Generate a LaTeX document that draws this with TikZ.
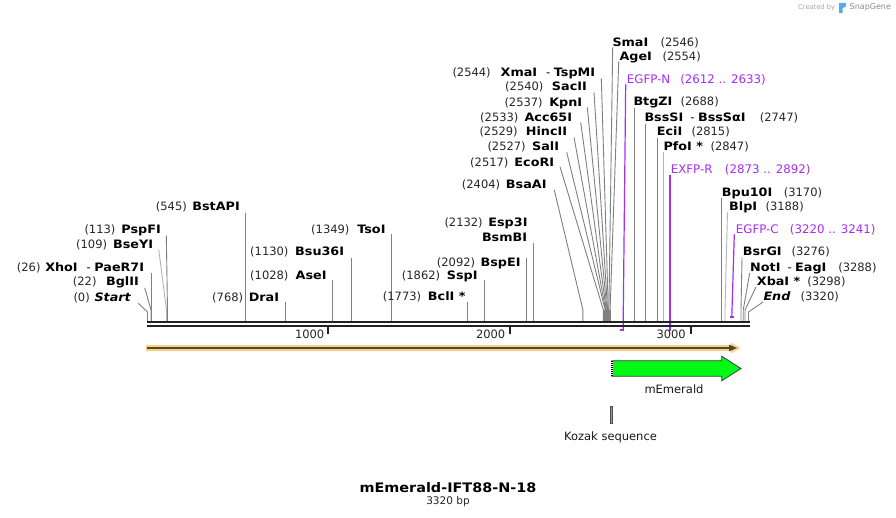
\documentclass[tikz,border=0pt]{standalone}
\usepackage{fontspec}
\setmainfont{DejaVu Sans}[BoldFeatures={FakeStretch=1.1},BoldItalicFeatures={FakeStretch=1.1}]
\definecolor{purp}{RGB}{165,45,245}
\definecolor{sitegray}{RGB}{128,128,128}
\definecolor{lightsite}{RGB}{180,180,180}
\definecolor{bb}{RGB}{34,34,34}
\definecolor{orangefill}{RGB}{250,208,130}
\definecolor{orangeline}{RGB}{80,72,55}
\definecolor{gfp}{RGB}{0,250,22}
\definecolor{sgblue}{RGB}{90,170,230}
\tikzset{
  nm/.style={font=\fontsize{11.6}{14}\selectfont\bfseries, inner sep=0pt, text=black},
  ps/.style={font=\fontsize{11.5}{13}\selectfont, inner sep=0pt, text=black!85},
  pn/.style={font=\fontsize{11.8}{14}\selectfont, inner sep=0pt, text=purp},
  site/.style={draw=sitegray, line width=0.9pt},
  lsite/.style={draw=lightsite, line width=0.9pt},
  prim/.style={draw=purp, line width=1.2pt},
  backbone/.style={draw=bb, line width=2.5pt},
  tickmark/.style={draw=bb, line width=2pt},
  plain/.style={font=\fontsize{11.5}{13}\selectfont, inner sep=0pt, text=black!90},
}
% left label: id, name, name right x, centre y, position, pos left x
\newcommand\LLab[6]{%
  \node[nm,anchor=base east] (n#1) at (#3,#4+4.3) {#2};
  \node[ps,anchor=base west] (p#1) at (#6,#4+4.3) {(#5)};}
% right label: id, name, name left x, centre y, position, pos right x
\newcommand\RLab[6]{%
  \node[nm,anchor=base west] (n#1) at (#3,#4+4.3) {#2};
  \node[ps,anchor=base east] (p#1) at (#6,#4+4.3) {(#5)};}
\begin{document}
\begin{tikzpicture}[x=1pt,y=-1pt]
\useasboundingbox (0,0) rectangle (896,518);
\fill[white] (0,0) rectangle (896,518);

% ---------- site lines ----------
\draw[site] (245.8,213) -- (245.8,321);
\draw[site] (166.3,235.7) -- (167.5,310) -- (167.5,321);
\draw[lsite] (158.7,249.3) -- (166.5,310) -- (166.5,321);
\draw[site] (151.7,273.3) -- (151.7,321);
\draw[site] (144.7,287.7) -- (151,310) -- (151,321);
\draw[site] (138.3,303.3) -- (147.5,312) -- (147.5,321);
\draw[site] (285.6,302.3) -- (285.6,321);
\draw[site] (351.6,258.3) -- (351.6,321);
\draw[site] (332.8,280) -- (332.8,321);
\draw[site] (391.4,234.3) -- (391.4,321);
\draw[site] (467.8,302.3) -- (467.8,321);
\draw[site] (484.4,280) -- (484.4,321);
\draw[site] (526,258.3) -- (526,321);
\draw[site] (533.4,243.3) -- (533.4,321);
\draw[site] (554.3,190) -- (582.9,310) -- (582.9,321);
\draw[site] (560,166.7) -- (603.4,310) -- (603.4,321);
\draw[site] (566.7,152.3) -- (605.2,310) -- (605.2,321);
\draw[site] (574,137.3) -- (605.6,310) -- (605.6,321);
\draw[site] (580.7,122.3) -- (606.3,310) -- (606.3,321);
\draw[site] (587.3,107.3) -- (607,310) -- (607,321);
\draw[site] (594,92.3) -- (607.6,310) -- (607.6,321);
\draw[site] (601.3,78.3) -- (608.3,310) -- (608.3,321);
\draw[site] (612.7,47.3) -- (608.9,310) -- (608.9,321);
\draw[site] (618.7,61.7) -- (610.1,310) -- (610.1,321);
\fill[sitegray] (603.5,310) rectangle (610.5,321);
\draw[site] (634.3,108.3) -- (634.3,321);
\draw[site] (645,124.3) -- (645,321);
\draw[site] (657.2,137.7) -- (657.2,321);
\draw[lsite] (663,152.3) -- (663,321);
\draw[site] (721.7,198.3) -- (721.7,321);
\draw[lsite] (727.5,212.3) -- (725,310) -- (725,321);
\draw[site] (742,257.3) -- (741,310) -- (741,321);
\draw[site] (749.7,273) -- (743.2,310) -- (743.2,321);
\draw[site] (756,287) -- (745,310) -- (745,321);
\draw[site] (763,302) -- (748.5,312) -- (748.5,321);

% ---------- primers ----------
\draw[prim] (625.7,84.3) -- (623.3,310) -- (623.3,330);
\draw[purp, line width=1.6pt] (620.3,330) -- (624.2,330);
\draw[prim] (670,175) -- (670,330);
\draw[purp, line width=1.6pt] (667.7,330.5) -- (671.2,330.5);
\draw[prim] (734.3,234.3) -- (731.8,316.5);
\draw[purp, line width=1.8pt] (729.9,317.2) -- (733.5,317.2);

% ---------- backbone ----------
\draw[backbone] (146.5,322.2) -- (749.5,322.2);
\draw[backbone] (146.5,326) -- (749.5,326);
\draw[tickmark] (328.3,327) -- (328.3,334.3);
\draw[tickmark] (509.6,327) -- (509.6,334.3);
\draw[tickmark] (690.8,327) -- (690.8,334.3);
\node[ps,anchor=base east] (t1) at (324.5,338.4) {1000};
\node[ps,anchor=base east] (t2) at (505.5,338.4) {2000};
\node[ps,anchor=base east] (t3) at (686,338.4) {3000};

% ---------- left labels ----------
\LLab{bstapi}{BstAPI}{240}{206.7}{545}{155.7}
\LLab{pspfi}{PspFI}{161}{229}{113}{84.3}
\LLab{bseyi}{BseYI}{153.3}{244}{109}{76}
\LLab{xhoi}{XhoI\hspace{9pt}{\mdseries -}\hspace{3.5pt}PaeR7I}{144.3}{267.7}{26}{16.7}
\LLab{bglii}{BglII}{139}{281}{22}{72.7}
\LLab{start}{\itshape Start}{131}{297}{0}{73.3}
\LLab{drai}{DraI}{279.3}{297}{768}{212}
\LLab{bsu}{Bsu36I}{344.3}{251.7}{1130}{250}
\LLab{asei}{AseI}{326.7}{275}{1028}{250}
\LLab{tsoi}{TsoI}{385.7}{229.3}{1349}{311}
\LLab{bcli}{BclI *}{465.7}{296.7}{1773}{382.7}
\LLab{sspi}{SspI}{477.7}{275}{1862}{401.7}
\LLab{bspei}{BspEI}{520.7}{262.7}{2092}{436.7}
\LLab{esp}{Esp3I}{527.7}{222.3}{2132}{444.3}
\node[nm,anchor=base east] (nbsmbi) at (527.3,237.7+4.3) {BsmBI};
\LLab{bsaai}{BsaAI}{546.7}{184}{2404}{461.7}
\LLab{ecori}{EcoRI}{554.3}{162}{2517}{470}
\LLab{sali}{SalI}{559.3}{146.7}{2527}{487.3}
\LLab{hincii}{HincII}{567.3}{131.7}{2529}{479.3}
\LLab{acc}{Acc65I}{572.3}{117.3}{2533}{480}
\LLab{kpni}{KpnI}{582.3}{102}{2537}{504.3}
\LLab{sacii}{SacII}{587}{86.7}{2540}{505}
\LLab{xmai}{XmaI\hspace{9pt}{\mdseries -}\hspace{3.5pt}TspMI}{595.3}{72}{2544}{452.3}

% ---------- right labels ----------
\RLab{smai}{SmaI}{612.3}{42.3}{2546}{699}
\RLab{agei}{AgeI}{619.3}{56.7}{2554}{701}
\RLab{btgzi}{BtgZI}{633.3}{101.7}{2688}{719}
\RLab{bsssi}{BssSI\hspace{7pt}{\mdseries -}\hspace{3.5pt}BssSαI}{644.3}{117.3}{2747}{798.3}
\RLab{ecii}{EciI}{656.7}{131.7}{2815}{730}
\RLab{pfoi}{PfoI *}{663.3}{146.7}{2847}{749}
\RLab{bpu}{Bpu10I}{721.7}{192.3}{3170}{822.3}
\RLab{blpi}{BlpI}{729}{206.7}{3188}{804}
\RLab{bsrgi}{BsrGI}{742.7}{251.7}{3276}{830}
\RLab{noti}{NotI\hspace{7pt}{\mdseries -}\hspace{3.5pt}EagI}{750}{267.3}{3288}{876.7}
\RLab{xbai}{XbaI *}{756.7}{281}{3298}{845.7}
\RLab{end}{\itshape End}{763.3}{296.7}{3320}{839}

% ---------- primer labels ----------
\node[pn,anchor=base west] (egfpn) at (626.7,79+4.3) {EGFP-N};
\node[pn,anchor=base east] (egfpnp) at (766,79+4.3) {(2612 .. 2633)};
\node[pn,anchor=base west] (exfpr) at (670.7,169+4.3) {EXFP-R};
\node[pn,anchor=base east] (exfprp) at (810.7,169+4.3) {(2873 .. 2892)};
\node[pn,anchor=base west] (egfpc) at (735.7,229+4.3) {EGFP-C};
\node[pn,anchor=base east] (egfpcp) at (875.7,229+4.3) {(3220 .. 3241)};

% ---------- features ----------
\fill[orangefill] (146,345) -- (731,345) -- (731,342.6) -- (740.5,348) -- (731,353.4) -- (731,351) -- (146,351) -- cycle;
\draw[orangeline, line width=2.2pt] (147,348) -- (731,348);
\fill[orangeline] (729,344.6) -- (737,348) -- (729,351.4) -- cycle;

\draw[black!75, line width=0.8pt, fill=gfp] (611.7,360.7) -- (721.7,360.7) -- (721.7,356.2) -- (741,368.5) -- (721.7,380.8) -- (721.7,376.3) -- (611.7,376.3) -- cycle;
\draw[white, line width=1.4pt] (612,361.2) -- (612,375.8);
\draw[black, line width=1.4pt, dash pattern=on 1pt off 1pt] (612,361.2) -- (612,375.8);
\node[plain] (memlab) at (674,389.5) {mEmerald};

\draw[black!70, fill=black!40, line width=0.6pt] (610,406.7) rectangle (612.6,423.3);
\node[plain] (kozak) at (610.5,437) {Kozak sequence};

% ---------- title ----------
\node[font=\fontsize{13.1}{16}\selectfont\bfseries, inner sep=0pt] (title) at (448,487.5) {mEmerald-IFT88-N-18};
\node[font=\fontsize{10.5}{12}\selectfont, inner sep=0pt, text=black!85] (bp) at (448,502) {3320 bp};

% ---------- credit ----------
\node[font=\fontsize{6.7}{8}\selectfont, inner sep=0pt, text=black!35, anchor=west] (cr) at (798,7.5) {Created by};
\fill[sgblue] (839,3) -- (845.5,3) .. controls (846.5,3) and (846.5,6) .. (845.5,7) -- (842.5,8) -- (842.5,13) -- (839,13) -- cycle;
\node[font=\fontsize{8}{9}\selectfont, inner sep=0pt, text=black!45, anchor=west] (sg) at (849.5,7.5) {SnapGene};
\end{tikzpicture}
\end{document}
